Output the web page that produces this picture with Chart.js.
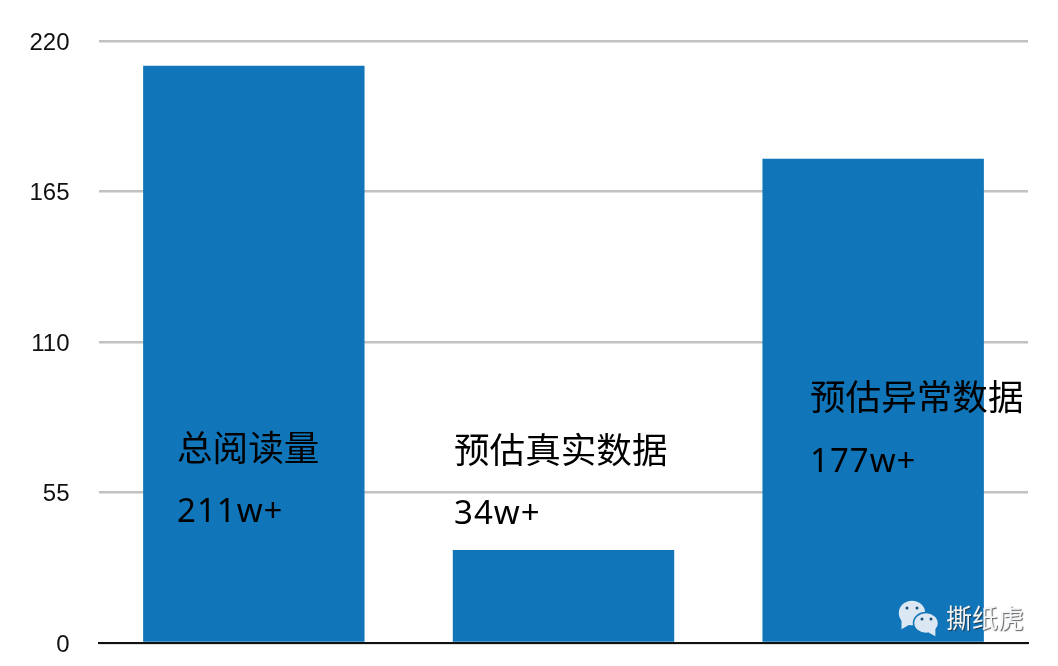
<!DOCTYPE html>
<html>
<head>
<meta charset="utf-8">
<style>
html, body { margin: 0; padding: 0; background: #fff; }
#wrap { position: relative; width: 1058px; height: 666px; }
</style>
<script src="https://cdn.jsdelivr.net/npm/chart.js@4"></script>
</head>
<body>
<div id="wrap"><canvas id="barChart" width="1058" height="666"></canvas></div>
<script>
const categories = ['总阅读量', '预估真实数据', '预估异常数据'];
const seriesValues = [211, 34, 177];
const valueLabels = ['211w+', '34w+', '177w+'];
const tickValues = [0, 55, 110, 165, 220];
const watermarkText = '撕纸虎';

const cjkFont = '"Noto Sans CJK SC", sans-serif';

// category / value captions sit inside the chart at fixed spots, as in the picture
const barCaptions = {
    id: 'barCaptions',
    afterDatasetsDraw(chart) {
        const c = chart.ctx;
        const captionX = [177, 454, 810];
        const captionY = [447, 449, 396];
        const valueY = [513, 515, 463];
        c.save();
        c.fillStyle = '#000';
        c.textBaseline = 'middle';
        c.textAlign = 'left';
        categories.forEach((name, i) => {
            c.font = '35.6px ' + cjkFont;
            c.fillText(name, captionX[i], captionY[i]);
            c.font = '33px "Noto Sans", sans-serif';
            c.letterSpacing = '1px';
            c.fillText(valueLabels[i], captionX[i], valueY[i]);
            c.letterSpacing = '0px';
        });
        c.restore();
    }
};

function bubble(c, x, y, rx, ry, tailDir) {
    c.beginPath();
    c.ellipse(x, y, rx, ry, 0, 0, Math.PI * 2);
    c.fill();
    c.stroke();
    // small tail, no outline so it merges into the bubble
    c.beginPath();
    c.moveTo(x + tailDir * rx * 0.75, y + ry * 0.45);
    c.lineTo(x + tailDir * rx * 0.75, y + ry * 1.25);
    c.lineTo(x + tailDir * rx * 0.2, y + ry * 0.9);
    c.closePath();
    c.fill();
}

const watermark = {
    id: 'watermark',
    afterDraw(chart) {
        const c = chart.ctx;
        c.save();
        // wechat style bubbles
        c.fillStyle = '#dbe8f4';
        c.strokeStyle = '#1175b9';
        c.lineWidth = 1.5;
        bubble(c, 912, 613, 14, 13, -1);
        bubble(c, 926, 623, 12.5, 10.5, 1);
        c.fillStyle = '#1a4f7a';
        [[907, 608], [917, 608], [922, 619], [931, 619]].forEach(p => {
            c.beginPath();
            c.arc(p[0], p[1], 1.5, 0, Math.PI * 2);
            c.fill();
        });
        c.font = '26px ' + cjkFont;
        c.fillStyle = '#f4f6f8';
        c.shadowColor = 'rgba(40,40,40,0.75)';
        c.shadowBlur = 1;
        c.shadowOffsetX = 1;
        c.shadowOffsetY = 1;
        c.textBaseline = 'middle';
        c.textAlign = 'left';
        c.fillText(watermarkText, 946, 618);
        c.restore();
    }
};

new Chart(document.getElementById('barChart'), {
    type: 'bar',
    data: {
        labels: categories,
        datasets: [{
            data: seriesValues,
            backgroundColor: '#1175b9',
            categoryPercentage: 0.715,
            barPercentage: 1
        }]
    },
    options: {
        responsive: false,
        animation: false,
        devicePixelRatio: 1,
        layout: { padding: { left: 0, right: 30, top: 41, bottom: 21 } },
        plugins: { legend: { display: false }, tooltip: { enabled: false } },
        scales: {
            x: {
                ticks: { display: false },
                grid: { display: false },
                border: { color: '#111', width: 2 },
                afterFit(axis) { axis.height = 2; }
            },
            y: {
                min: 0,
                max: 220,
                afterBuildTicks(axis) { axis.ticks = tickValues.map(v => ({ value: v })); },
                afterFit(axis) {
                    axis.width = 99;
                    axis.paddingTop = 0;
                    axis.paddingBottom = 0;
                },
                ticks: {
                    color: '#111',
                    font: { family: '"Liberation Sans", sans-serif', size: 24 },
                    padding: 29.5,
                    labelOffset: 2
                },
                grid: { color: '#c2c2c2', lineWidth: 2.5, drawTicks: false },
                border: { display: false }
            }
        }
    },
    plugins: [barCaptions, watermark]
});
</script>
</body>
</html>
